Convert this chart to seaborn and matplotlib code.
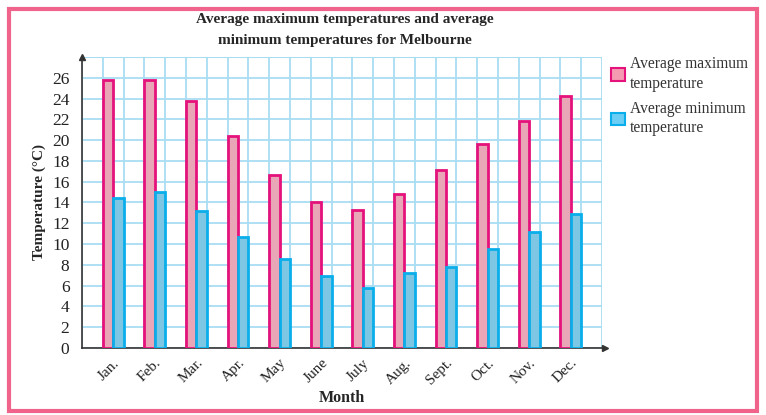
import seaborn as sns
import pandas as pd
import matplotlib.pyplot as plt
from matplotlib.patches import Rectangle
from matplotlib.ticker import MultipleLocator

months = ['Jan.', 'Feb.', 'Mar.', 'Apr.', 'May', 'June', 'July', 'Aug.', 'Sept.', 'Oct.', 'Nov.', 'Dec.']
max_temp = [25.8, 25.8, 23.8, 20.4, 16.6, 14.0, 13.3, 14.8, 17.1, 19.6, 21.8, 24.2]
min_temp = [14.4, 15.0, 13.2, 10.7, 8.6, 6.9, 5.8, 7.2, 7.8, 9.5, 11.2, 12.9]
series = ['Average maximum\ntemperature', 'Average minimum\ntemperature']

df = pd.DataFrame({
    'month': months * 2,
    'temp': max_temp + min_temp,
    'series': [series[0]] * 12 + [series[1]] * 12,
})

sns.set_style('white')
plt.rcParams['font.family'] = ['Liberation Serif', 'DejaVu Serif']

fills = ['#F49BB2', '#6CCEF5']
edges = ['#E5127B', '#0AAEEA']
grid_c = '#A9DDF4'

fig = plt.figure(figsize=(7.66, 4.15), dpi=100)
ax = fig.add_axes([0.107, 0.1614, 0.679, 0.7013])

sns.barplot(data=df, x='month', y='temp', hue='series', palette=fills,
            width=0.5, gap=0, dodge=True, linewidth=2, legend=False, ax=ax, zorder=3)
for cont, ec in zip(ax.containers, edges):
    for p in cont:
        p.set_edgecolor(ec)

ax.set_xlim(-0.75, 11.75)
ax.set_ylim(0, 28)
ax.set_yticks(range(0, 27, 2))
ax.xaxis.set_minor_locator(MultipleLocator(0.5, offset=0.25))
ax.set_axisbelow(True)
ax.grid(True, which='minor', axis='x', color=grid_c, lw=1.3)
ax.grid(True, which='major', axis='y', color=grid_c, lw=1.3)
# upper border of grid
ax.axhline(28, color=grid_c, lw=1.5, zorder=1)

for s in ['top', 'right']:
    ax.spines[s].set_visible(False)
for s in ['left', 'bottom']:
    ax.spines[s].set_color('#333333')
    ax.spines[s].set_linewidth(1.2)
ax.plot(1.005, 0, '>', color='#333333', ms=5, transform=ax.transAxes, clip_on=False)
ax.plot(0, 1.0, '^', color='#333333', ms=5, transform=ax.transAxes, clip_on=False)

ax.tick_params(axis='y', which='major', length=7, width=1.2, color='#333333',
               labelsize=12.5, pad=2, labelcolor='#222222')
ax.tick_params(axis='x', which='both', length=0, labelsize=11, pad=6, labelcolor='#222222')
ax.tick_params(axis='x', which='minor', labelbottom=False)
plt.setp(ax.get_xticklabels(), rotation=45, ha='right', rotation_mode='anchor')

ax.set_xlabel('Month', fontsize=11.5, fontweight='bold', labelpad=2)
ax.set_ylabel('Temperature (°C)', fontsize=11, fontweight='bold', labelpad=4)
ax.set_title('Average maximum temperatures and average\nminimum temperatures for Melbourne',
             fontsize=11, fontweight='bold', pad=9, x=0.505, linespacing=1.8)

handles = [Rectangle((0, 0), 1, 1, facecolor=f, edgecolor=e, lw=1.5) for f, e in zip(fills, edges)]
ax.legend(handles, series, loc='upper left', bbox_to_anchor=(0.99, 1.05), frameon=False,
          handlelength=0.9, handleheight=0.9, handletextpad=0.3,
          labelspacing=0.55, labelcolor='#333333', prop={'size': 11.2})
for t in ax.get_legend().get_texts():
    t.set_linespacing(1.3)

fig.patches.append(Rectangle((0.0117, 0.0096), 0.9763, 0.9685, transform=fig.transFigure,
                             fill=False, edgecolor='#F0648C', lw=3, zorder=10))

fig.savefig('out.png', dpi=100)
